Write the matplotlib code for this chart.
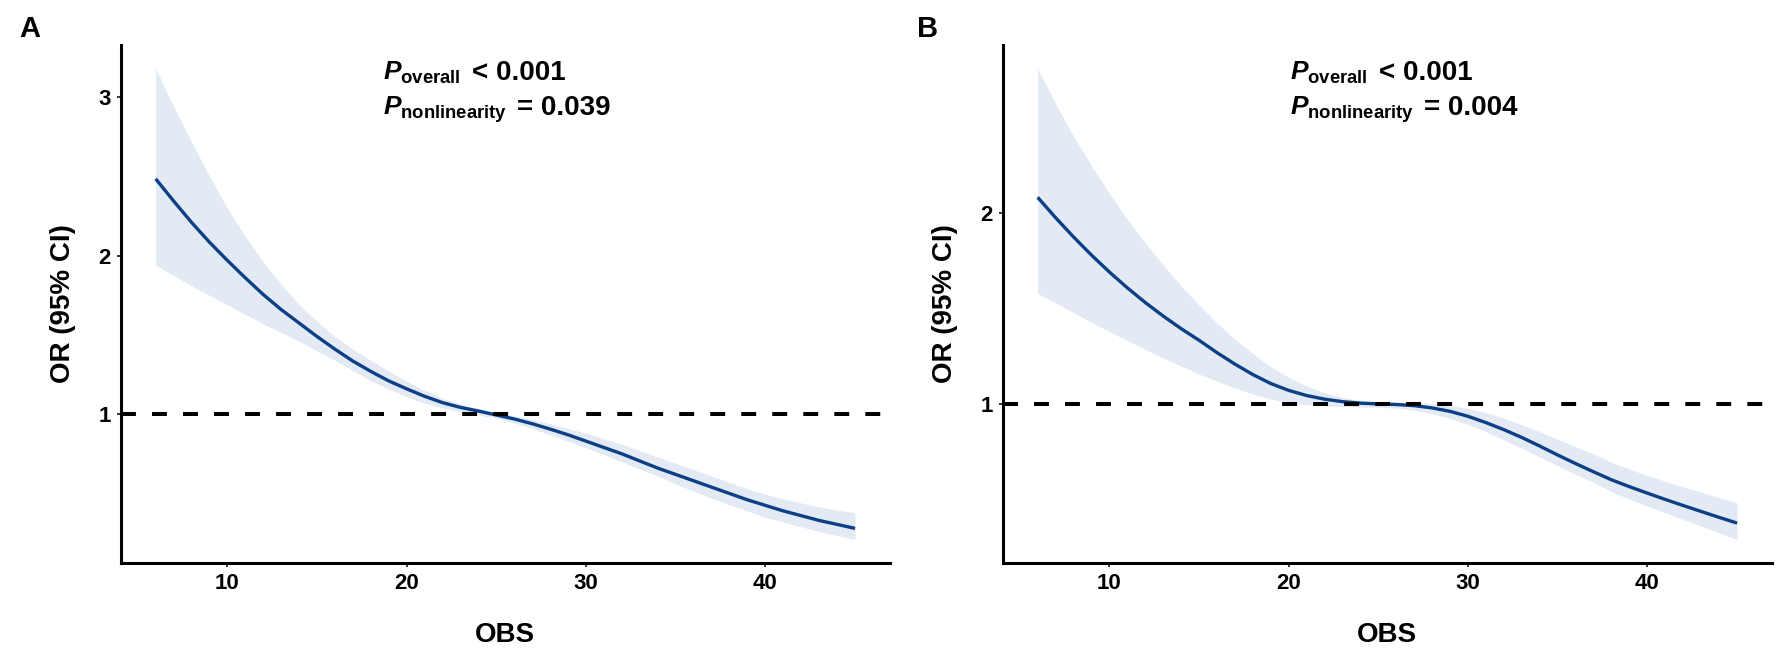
import numpy as np
import matplotlib
matplotlib.use("Agg")
import matplotlib.pyplot as plt
import matplotlib.transforms as mtransforms

plt.rcParams['font.family'] = ['Liberation Sans', 'DejaVu Sans']
plt.rcParams['font.weight'] = 'bold'
plt.rcParams['mathtext.fontset'] = 'custom'
plt.rcParams['mathtext.it'] = 'Liberation Sans:italic:bold'
plt.rcParams['mathtext.rm'] = 'Liberation Sans:bold'
plt.rcParams['mathtext.bf'] = 'Liberation Sans:bold'

obs = list(range(6, 46))

# panel A : OR and 95% CI
or_a = [2.485, 2.345, 2.21, 2.085, 1.97, 1.86, 1.755, 1.66, 1.575, 1.49,
        1.41, 1.335, 1.27, 1.21, 1.16, 1.113, 1.073, 1.043, 1.02, 0.995,
        0.97, 0.94, 0.906, 0.87, 0.83, 0.79, 0.75, 0.705, 0.66, 0.62,
        0.58, 0.54, 0.50, 0.46, 0.425, 0.39, 0.36, 0.33, 0.305, 0.28]
hi_a = [3.18, 2.94, 2.72, 2.50, 2.30, 2.12, 1.96, 1.82, 1.69, 1.585,
        1.49, 1.41, 1.34, 1.27, 1.21, 1.15, 1.10, 1.065, 1.035, 1.01,
        0.99, 0.965, 0.94, 0.91, 0.88, 0.845, 0.81, 0.77, 0.73, 0.69,
        0.65, 0.61, 0.57, 0.53, 0.495, 0.465, 0.44, 0.415, 0.395, 0.38]
lo_a = [1.94, 1.875, 1.81, 1.75, 1.69, 1.63, 1.57, 1.515, 1.46, 1.40,
        1.34, 1.275, 1.21, 1.16, 1.11, 1.07, 1.04, 1.015, 0.995, 0.975,
        0.945, 0.91, 0.87, 0.83, 0.79, 0.745, 0.70, 0.655, 0.61, 0.56,
        0.515, 0.47, 0.43, 0.39, 0.35, 0.32, 0.29, 0.26, 0.235, 0.21]

# panel B : OR and 95% CI
or_b = [2.085, 1.978, 1.877, 1.782, 1.693, 1.61, 1.533, 1.462, 1.396, 1.335,
        1.27, 1.21, 1.155, 1.108, 1.072, 1.045, 1.026, 1.013, 1.005, 1.001,
        0.998, 0.992, 0.98, 0.962, 0.936, 0.903, 0.866, 0.825, 0.78, 0.733,
        0.688, 0.645, 0.603, 0.567, 0.533, 0.50, 0.468, 0.437, 0.406, 0.376]
hi_b = [2.76, 2.575, 2.405, 2.25, 2.105, 1.97, 1.845, 1.73, 1.62, 1.52,
        1.425, 1.34, 1.265, 1.195, 1.14, 1.095, 1.06, 1.035, 1.02, 1.012,
        1.01, 1.008, 1.003, 0.993, 0.978, 0.955, 0.926, 0.892, 0.855, 0.815,
        0.776, 0.738, 0.695, 0.66, 0.625, 0.595, 0.566, 0.538, 0.51, 0.483]
lo_b = [1.58, 1.53, 1.48, 1.43, 1.38, 1.333, 1.287, 1.242, 1.199, 1.158,
        1.12, 1.085, 1.053, 1.027, 1.008, 0.996, 0.99, 0.987, 0.985, 0.983,
        0.979, 0.968, 0.95, 0.925, 0.893, 0.855, 0.813, 0.768, 0.722, 0.676,
        0.632, 0.59, 0.54, 0.502, 0.465, 0.43, 0.395, 0.36, 0.325, 0.29]

panels = ['A', 'B']
p_overall = ['< 0.001', '< 0.001']
p_nonlin = ['= 0.039', '= 0.004']
text_x = [18.7, 20.1]
yticks_list = [[1, 2, 3], [1, 2]]

line_col = '#0B3F86'
band_col = '#E3EAF3'

fig = plt.figure(figsize=(17.8, 6.53), dpi=100)
axA = fig.add_axes([0.0678, 0.1378, 0.4322, 0.7932])
axB = fig.add_axes([0.5633, 0.1378, 0.4322, 0.7932])
axes = [axA, axB]
data = [(or_a, lo_a, hi_a), (or_b, lo_b, hi_b)]

for i, ax in enumerate(axes):
    mid, lo, hi = data[i]
    ax.fill_between(obs, lo, hi, color=band_col, linewidth=0)
    ax.plot(obs, mid, color=line_col, linewidth=2.4, solid_capstyle='butt')
    ax.axhline(1, color='black', linewidth=2.9, dashes=(3.7, 4.0))
    ax.margins(x=0.05, y=0.05)

    ax.set_xticks([10, 20, 30, 40])
    ax.set_yticks(yticks_list[i])
    ax.tick_params(axis='both', labelsize=16, length=3, width=1.1, pad=4, colors='black')
    for lab in ax.get_xticklabels() + ax.get_yticklabels():
        lab.set_fontweight('bold')

    for s in ['top', 'right']:
        ax.spines[s].set_visible(False)
    for s in ['left', 'bottom']:
        ax.spines[s].set_linewidth(2.2)

    ax.set_xlabel('OBS', fontsize=20, fontweight='bold', labelpad=20)
    ax.set_ylabel('OR (95% CI)', fontsize=20, fontweight='bold', labelpad=16)

    # P-value annotation: symbol with subscript, then the value
    trans = mtransforms.blended_transform_factory(ax.transData, ax.transAxes)
    ax.text(text_x[i], 0.932, r'$\mathit{P}_{\mathrm{overall}}$',
            transform=trans, fontsize=19, va='baseline', ha='left')
    ax.text(text_x[i] + 4.95, 0.932, p_overall[i],
            transform=trans, fontsize=20, fontweight='bold', va='baseline', ha='left')
    ax.text(text_x[i], 0.865, r'$\mathit{P}_{\mathrm{nonlinearity}}$',
            transform=trans, fontsize=19, va='baseline', ha='left')
    ax.text(text_x[i] + 7.45, 0.865, p_nonlin[i],
            transform=trans, fontsize=20, fontweight='bold', va='baseline', ha='left')

fig.text(0.0107, 0.944, panels[0], fontsize=21, fontweight='bold')
fig.text(0.515, 0.944, panels[1], fontsize=21, fontweight='bold')

fig.savefig('out.png', dpi=100, facecolor='white')
